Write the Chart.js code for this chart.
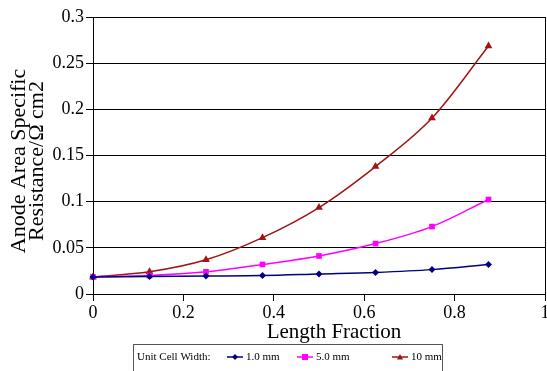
<!DOCTYPE html>
<html lang="en">
<head>
    <meta charset="UTF-8">
    <title>Anode Area Specific Resistance</title>
    <script src="https://cdn.jsdelivr.net/npm/chart.js"></script>
    <style>
        html, body { margin: 0; padding: 0; background: #fff; }
        .chart-container { width: 547px; height: 371px; position: relative; }
    </style>
</head>
<body>
    <div class="chart-container"><canvas id="chart" width="547" height="371"></canvas></div>

    <script>
        const lengthFraction = [0, 0.125, 0.25, 0.375, 0.5, 0.625, 0.75, 0.875];

        const width1mm = [0.0185, 0.019, 0.0195, 0.020, 0.0217, 0.0234, 0.0264, 0.032];
        const width5mm = [0.0185, 0.020, 0.024, 0.032, 0.0412, 0.0546, 0.073, 0.1023];
        const width10mm = [0.0185, 0.024, 0.037, 0.061, 0.0936, 0.138, 0.1905, 0.2685];

        const seriesLabels = ['1.0 mm', '5.0 mm', '10 mm'];
        const legendTitle = 'Unit Cell Width:';
        const yTitle = ['Anode Area Specific', 'Resistance/\u03A9 cm2'];
        const xTitle = 'Length Fraction';

        const colors = ['#000080', '#ff00ff', '#a01414'];
        const styles = ['rectRot', 'rect', 'triangle'];
        const radii = [3.5, 4, 4.5];

        const serif = "'Liberation Serif', 'Times New Roman', serif";

        function series(values) {
            return values.map((v, i) => ({ x: lengthFraction[i], y: v }));
        }

        function drawMarker(ctx, style, x, y, r) {
            ctx.beginPath();
            if (style === 'rectRot') {
                ctx.moveTo(x, y - r);
                ctx.lineTo(x + r, y);
                ctx.lineTo(x, y + r);
                ctx.lineTo(x - r, y);
            } else if (style === 'rect') {
                ctx.rect(x - r, y - r, r * 2, r * 2);
            } else {
                ctx.moveTo(x, y - r);
                ctx.lineTo(x + r, y + r * 0.8);
                ctx.lineTo(x - r, y + r * 0.8);
            }
            ctx.closePath();
            ctx.fill();
        }

        // axis titles, placed a little off the plot centre
        const axisTitles = {
            id: 'axisTitles',
            afterDraw(chart) {
                const ctx = chart.ctx;
                ctx.save();
                ctx.fillStyle = '#000';
                ctx.textAlign = 'center';
                ctx.textBaseline = 'middle';
                ctx.font = '21px ' + serif;
                ctx.fillText(xTitle, 334, 332);
                ctx.translate(0, 161);
                ctx.rotate(-Math.PI / 2);
                ctx.font = '22px ' + serif;
                ctx.fillText(yTitle[0], 0, 19);
                ctx.fillText(yTitle[1], 0, 37);
                ctx.restore();
            }
        };

        // legend box at the bottom, line + marker + label for each series
        const bottomLegend = {
            id: 'bottomLegend',
            afterDraw(chart) {
                const ctx = chart.ctx;
                ctx.save();
                ctx.strokeStyle = '#555';
                ctx.lineWidth = 1;
                ctx.strokeRect(133.5, 344.5, 309, 30);
                ctx.font = '11px ' + serif;
                ctx.fillStyle = '#000';
                ctx.textBaseline = 'middle';
                ctx.fillText(legendTitle, 137, 357);
                const starts = [227, 297, 392];
                chart.data.datasets.forEach((ds, i) => {
                    const x0 = starts[i];
                    ctx.strokeStyle = colors[i];
                    ctx.fillStyle = colors[i];
                    ctx.lineWidth = 1.5;
                    ctx.beginPath();
                    ctx.moveTo(x0, 357);
                    ctx.lineTo(x0 + 16, 357);
                    ctx.stroke();
                    drawMarker(ctx, styles[i], x0 + 8, 357, 3);
                    ctx.fillStyle = '#000';
                    ctx.fillText(seriesLabels[i], x0 + 19, 357);
                });
                ctx.restore();
            }
        };

        const ctx = document.getElementById('chart').getContext('2d');
        new Chart(ctx, {
            type: 'line',
            data: {
                datasets: [width1mm, width5mm, width10mm].map((vals, i) => ({
                    label: seriesLabels[i],
                    data: series(vals),
                    borderColor: colors[i],
                    backgroundColor: colors[i],
                    borderWidth: 1.5,
                    pointStyle: styles[i],
                    pointRadius: radii[i],
                    pointBorderWidth: 0,
                    cubicInterpolationMode: 'monotone',
                    fill: false,
                    clip: false
                }))
            },
            options: {
                responsive: false,
                animation: false,
                layout: { autoPadding: false, padding: { top: 17, right: 2, bottom: 0, left: 0 } },
                plugins: {
                    legend: { display: false },
                    tooltip: { enabled: false }
                },
                scales: {
                    x: {
                        type: 'linear',
                        min: 0,
                        max: 1,
                        ticks: {
                            stepSize: 0.2,
                            color: '#000',
                            padding: 1,
                            font: { family: serif, size: 18 },
                            callback: v => String(Number(v.toFixed(1)))
                        },
                        grid: {
                            color: c => (c.tick && c.tick.value === 1 ? '#000' : 'rgba(0,0,0,0)'),
                            tickColor: '#000',
                            tickLength: 7,
                            lineWidth: 1
                        },
                        border: { color: '#000', width: 1 },
                        afterFit: s => { s.height = 77; s.paddingLeft = 0; s.paddingRight = 0; }
                    },
                    y: {
                        min: 0,
                        max: 0.3,
                        ticks: {
                            stepSize: 0.05,
                            color: '#000',
                            padding: 2,
                            font: { family: serif, size: 18 },
                            callback: v => String(Number(v.toFixed(2)))
                        },
                        grid: {
                            color: '#000',
                            tickColor: '#000',
                            tickLength: 7,
                            lineWidth: 1
                        },
                        border: { color: '#000', width: 1 },
                        afterFit: s => { s.width = 93; s.paddingTop = 0; s.paddingBottom = 0; }
                    }
                }
            },
            plugins: [axisTitles, bottomLegend]
        });
    </script>
</body>
</html>
